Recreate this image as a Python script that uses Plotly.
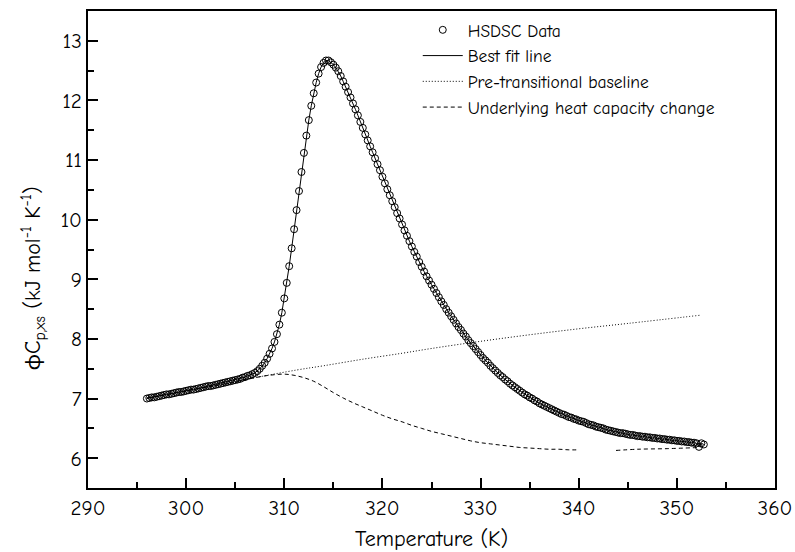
import plotly.graph_objects as go

# ---- data ----
temps = [
    296.00, 296.25, 296.50, 296.75, 297.00, 297.25, 297.50, 297.75, 298.00, 298.25,
    298.50, 298.75, 299.00, 299.25, 299.50, 299.75, 300.00, 300.25, 300.50, 300.75,
    301.00, 301.25, 301.50, 301.75, 302.00, 302.25, 302.50, 302.75, 303.00, 303.25,
    303.50, 303.75, 304.00, 304.25, 304.50, 304.75, 305.00, 305.25, 305.50, 305.75,
    306.00, 306.25, 306.50, 306.75, 307.00, 307.25, 307.50, 307.75, 308.00, 308.25,
    308.50, 308.75, 309.00, 309.25, 309.50, 309.75, 310.00, 310.25, 310.50, 310.75,
    311.00, 311.25, 311.50, 311.75, 312.00, 312.25, 312.50, 312.75, 313.00, 313.25,
    313.50, 313.75, 314.00, 314.25, 314.50, 314.75, 315.00, 315.25, 315.50, 315.75,
    316.00, 316.25, 316.50, 316.75, 317.00, 317.25, 317.50, 317.75, 318.00, 318.25,
    318.50, 318.75, 319.00, 319.25, 319.50, 319.75, 320.00, 320.25, 320.50, 320.75,
    321.00, 321.25, 321.50, 321.75, 322.00, 322.25, 322.50, 322.75, 323.00, 323.25,
    323.50, 323.75, 324.00, 324.25, 324.50, 324.75, 325.00, 325.25, 325.50, 325.75,
    326.00, 326.25, 326.50, 326.75, 327.00, 327.25, 327.50, 327.75, 328.00, 328.25,
    328.50, 328.75, 329.00, 329.25, 329.50, 329.75, 330.00, 330.25, 330.50, 330.75,
    331.00, 331.25, 331.50, 331.75, 332.00, 332.25, 332.50, 332.75, 333.00, 333.25,
    333.50, 333.75, 334.00, 334.25, 334.50, 334.75, 335.00, 335.25, 335.50, 335.75,
    336.00, 336.25, 336.50, 336.75, 337.00, 337.25, 337.50, 337.75, 338.00, 338.25,
    338.50, 338.75, 339.00, 339.25, 339.50, 339.75, 340.00, 340.25, 340.50, 340.75,
    341.00, 341.25, 341.50, 341.75, 342.00, 342.25, 342.50, 342.75, 343.00, 343.25,
    343.50, 343.75, 344.00, 344.25, 344.50, 344.75, 345.00, 345.25, 345.50, 345.75,
    346.00, 346.25, 346.50, 346.75, 347.00, 347.25, 347.50, 347.75, 348.00, 348.25,
    348.50, 348.75, 349.00, 349.25, 349.50, 349.75, 350.00, 350.25, 350.50, 350.75,
    351.00, 351.25, 351.50, 351.75, 352.00, 352.25, 352.50, 352.75,
]
cp_data = [
    7.00, 7.01, 7.02, 7.02, 7.03, 7.04, 7.05, 7.06, 7.07, 7.07,
    7.08, 7.09, 7.10, 7.11, 7.11, 7.12, 7.13, 7.14, 7.15, 7.15,
    7.16, 7.17, 7.18, 7.19, 7.20, 7.21, 7.21, 7.22, 7.23, 7.24,
    7.25, 7.26, 7.27, 7.28, 7.29, 7.30, 7.31, 7.32, 7.33, 7.35,
    7.36, 7.38, 7.39, 7.41, 7.43, 7.46, 7.50, 7.55, 7.60, 7.67,
    7.75, 7.84, 7.95, 8.08, 8.24, 8.44, 8.68, 8.94, 9.22, 9.52,
    9.84, 10.16, 10.48, 10.80, 11.12, 11.41, 11.67, 11.91, 12.12, 12.30,
    12.45, 12.56, 12.63, 12.67, 12.67, 12.64, 12.60, 12.55, 12.49, 12.41,
    12.32, 12.23, 12.14, 12.05, 11.95, 11.85, 11.75, 11.64, 11.54, 11.43,
    11.33, 11.23, 11.13, 11.03, 10.93, 10.83, 10.72, 10.61, 10.51, 10.41,
    10.31, 10.21, 10.11, 10.02, 9.92, 9.82, 9.73, 9.64, 9.55, 9.46,
    9.38, 9.29, 9.21, 9.13, 9.05, 8.98, 8.91, 8.84, 8.77, 8.70,
    8.63, 8.57, 8.50, 8.44, 8.38, 8.32, 8.26, 8.20, 8.15, 8.09,
    8.04, 7.98, 7.93, 7.88, 7.83, 7.78, 7.73, 7.68, 7.64, 7.60,
    7.55, 7.51, 7.47, 7.43, 7.39, 7.36, 7.32, 7.29, 7.25, 7.22,
    7.19, 7.16, 7.13, 7.10, 7.07, 7.05, 7.02, 7.00, 6.97, 6.95,
    6.92, 6.90, 6.88, 6.86, 6.84, 6.82, 6.80, 6.78, 6.76, 6.74,
    6.73, 6.71, 6.69, 6.68, 6.66, 6.65, 6.63, 6.62, 6.61, 6.59,
    6.57, 6.56, 6.55, 6.53, 6.52, 6.51, 6.50, 6.48, 6.47, 6.46,
    6.45, 6.44, 6.43, 6.42, 6.42, 6.41, 6.40, 6.39, 6.39, 6.38,
    6.37, 6.37, 6.36, 6.36, 6.35, 6.35, 6.34, 6.34, 6.33, 6.33,
    6.32, 6.32, 6.31, 6.31, 6.30, 6.30, 6.29, 6.29, 6.28, 6.28,
    6.27, 6.27, 6.26, 6.26, 6.25, 6.19, 6.25, 6.23,
]

base_T = [296.0, 300.0, 304.0, 307.0, 311.3, 314.0, 318.0, 322.0, 325.0,
          330.0, 335.0, 340.0, 345.0, 352.5]
base_cp = [7.01, 7.13, 7.25, 7.35, 7.48, 7.55, 7.66, 7.76, 7.84,
           7.96, 8.07, 8.17, 8.26, 8.40]

under_T = [296.0, 300.0, 304.0, 306.0, 307.0, 308.0, 309.0, 310.0, 311.0, 312.0,
           313.0, 314.0, 315.0, 316.0, 317.0, 318.0, 319.0, 320.0, 321.0, 322.0,
           323.0, 324.0, 325.0, 326.0, 327.0, 328.0, 329.0, 330.0, 331.0, 332.0,
           333.0, 334.0, 335.0, 336.0, 337.0, 338.0, 339.0, 340.0, 341.9,
           343.8, 346.0, 349.0, 352.4]
under_cp = [7.01, 7.13, 7.25, 7.32, 7.35, 7.38, 7.40, 7.41, 7.39, 7.35,
            7.29, 7.20, 7.10, 7.01, 6.93, 6.86, 6.79, 6.72, 6.66, 6.61,
            6.55, 6.50, 6.45, 6.41, 6.37, 6.33, 6.29, 6.26, 6.24, 6.22,
            6.20, 6.18, 6.17, 6.16, 6.15, 6.15, 6.14, 6.14, None,
            6.13, 6.15, 6.16, 6.18]

x_ticks = [290, 300, 310, 320, 330, 340, 350, 360]
y_ticks = [6, 7, 8, 9, 10, 11, 12, 13]

FONT = "Comic Sans MS, Comic Neue, Lato, sans-serif"

fig = go.Figure()
fig.add_trace(go.Scatter(
    x=temps, y=cp_data, mode="markers", name="HSDSC Data",
    marker=dict(symbol="circle-open", size=7, color="black", line=dict(width=1, color="black")),
))
fig.add_trace(go.Scatter(
    x=temps, y=cp_data, mode="lines", name="Best fit line",
    line=dict(color="black", width=1),
))
fig.add_trace(go.Scatter(
    x=base_T, y=base_cp, mode="lines", name="Pre-transitional baseline",
    line=dict(color="black", width=1, dash="1px,2px", shape="spline"),
))
fig.add_trace(go.Scatter(
    x=under_T, y=under_cp, mode="lines", name="Underlying heat capacity change",
    line=dict(color="black", width=1, dash="4px,3px", shape="spline"),
    connectgaps=False,
))

axis_common = dict(
    showline=True, linecolor="black", linewidth=2, mirror=True,
    ticks="inside", ticklen=10, tickwidth=1.5, tickcolor="black",
    showgrid=False, zeroline=False, automargin=False,
    tickfont=dict(family=FONT, size=21, color="black"),
    ticklabelstandoff=0,
)

fig.update_xaxes(
    range=[290, 360], tickvals=x_ticks, ticktext=[str(v) for v in x_ticks],
    minor=dict(ticks="inside", ticklen=6, tickwidth=1.5, tickcolor="black", dtick=5, showgrid=False),
    title=dict(text="Temperature (K)", font=dict(family=FONT, size=22, color="black"), standoff=12),
    **axis_common,
)
fig.update_yaxes(
    range=[5.5, 13.5], tickvals=y_ticks, ticktext=[str(v) for v in y_ticks],
    minor=dict(ticks="inside", ticklen=6, tickwidth=1.5, tickcolor="black", dtick=0.5, showgrid=False),
    **axis_common,
)

fig.add_annotation(
    text="ϕC<sub>p,xs</sub> (kJ mol<sup>-1</sup>\u00a0K<sup>-1</sup>)",
    xref="paper", yref="paper", x=-0.080, y=0.44,
    xanchor="center", yanchor="middle", textangle=-90, showarrow=False,
    font=dict(family=FONT, size=22, color="black"),
)

fig.update_layout(
    width=795, height=552,
    margin=dict(l=88, r=20, t=11, b=64),
    paper_bgcolor="white", plot_bgcolor="white",
    font=dict(family=FONT, size=18, color="black"),
    legend=dict(
        x=0.48, y=0.998, xanchor="left", yanchor="top",
        bgcolor="rgba(0,0,0,0)", borderwidth=0,
        font=dict(family=FONT, size=17.5, color="black"),
        tracegroupgap=0, itemwidth=40,
    ),
    showlegend=True,
)

fig.write_html("out.html")
